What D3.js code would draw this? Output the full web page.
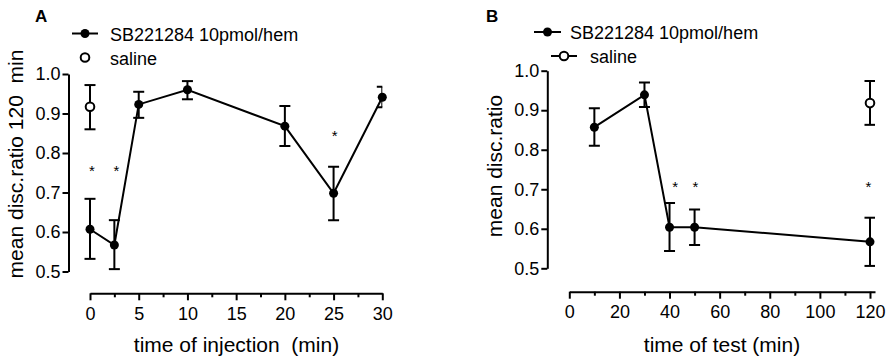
<!DOCTYPE html>
<html>
<head>
<meta charset="utf-8">
<script src="https://cdn.jsdelivr.net/npm/d3@7"></script>
<style>
  html, body { margin: 0; padding: 0; background: #fff; }
  svg { display: block; }
  text { font-family: Arial, "Liberation Sans", Helvetica, sans-serif; fill: #000; }
</style>
</head>
<body>
<svg id="chart" width="892" height="364"></svg>
<script>
// ---------- Panel A data ----------
const timesA = [0, 2.5, 5, 10, 20, 25, 30];
const meanA = [0.607, 0.567, 0.923, 0.960, 0.868, 0.698, 0.941];
const errHighA = [0.684, 0.630, 0.955, 0.982, 0.919, 0.765, 0.968];
const errLowA = [0.532, 0.506, 0.889, 0.936, 0.818, 0.630, 0.916];
const salineTimeA = [0];
const salineMeanA = [0.917];
const salineHighA = [0.972];
const salineLowA = [0.860];
const starXA = [0.2, 2.7, 25.1];
const starYA = [0.763, 0.763, 0.852];
const xTicksA = [0, 5, 10, 15, 20, 25, 30];
const xMinorA = [2.5, 7.5, 12.5, 17.5, 22.5, 27.5];

// ---------- Panel B data ----------
const timesB = [10, 30, 40, 50, 120];
const meanB = [0.857, 0.939, 0.604, 0.604, 0.567];
const errHighB = [0.905, 0.970, 0.665, 0.649, 0.628];
const errLowB = [0.810, 0.908, 0.544, 0.559, 0.506];
const salineTimeB = [120];
const salineMeanB = [0.918];
const salineHighB = [0.974];
const salineLowB = [0.863];
const starXB = [42.3, 50.3, 119.4];
const starYB = [0.715, 0.715, 0.715];
const xTicksB = [0, 20, 40, 60, 80, 100, 120];
const xMinorB = [10, 30, 50, 70, 90, 110];

const yTicks = [0.5, 0.6, 0.7, 0.8, 0.9, 1.0];
const seriesLabel = "SB221284 10pmol/hem";
const salineLabel = "saline";

const svg = d3.select("#chart");
const fmt = d3.format(".1f");

function panel(cfg) {
  const g = svg.append("g");
  const x = d3.scaleLinear().domain(cfg.xDomain).range(cfg.xRange);
  const y = d3.scaleLinear().domain([0.5, 1.0]).range(cfg.yRange);

  // y axis
  const ya = g.append("g")
    .attr("transform", `translate(${cfg.yAxisX},0)`)
    .call(d3.axisLeft(y).tickValues(yTicks).tickFormat(fmt).tickSizeInner(6).tickSizeOuter(0).tickPadding(2));
  // x axis
  const xa = g.append("g")
    .attr("transform", `translate(0,${cfg.xAxisY})`)
    .call(d3.axisBottom(x).tickValues(cfg.xTicks).tickFormat(d3.format("d")).tickSizeInner(7).tickSizeOuter(0).tickPadding(7));
  const xm = g.append("g")
    .attr("transform", `translate(0,${cfg.xAxisY})`)
    .call(d3.axisBottom(x).tickValues(cfg.xMinor).tickFormat("").tickSizeInner(4).tickSizeOuter(0));
  xm.select(".domain").remove();
  [ya, xa, xm].forEach(a => {
    a.selectAll("path, line").attr("stroke", "#000").attr("stroke-width", 2);
    a.selectAll("text").attr("font-size", 18).attr("font-family", "Arial, 'Liberation Sans', sans-serif").attr("fill", "#000");
  });

  // clip for error bars
  const clipId = "clip" + cfg.id;
  svg.append("clipPath").attr("id", clipId).append("rect")
    .attr("x", x(cfg.xDomain[0]) - 20).attr("y", 0)
    .attr("width", x(cfg.clipMax) - x(cfg.xDomain[0]) + 20).attr("height", 364);

  const cap = 5.5;
  function errorBars(xs, hi, lo) {
    const eb = g.append("g").attr("clip-path", `url(#${clipId})`)
      .attr("stroke", "#000").attr("stroke-width", 2).attr("fill", "none");
    xs.forEach((t, i) => {
      const cx = x(t);
      eb.append("line").attr("x1", cx).attr("x2", cx).attr("y1", y(hi[i])).attr("y2", y(lo[i]));
      eb.append("line").attr("x1", cx - cap).attr("x2", cx + cap).attr("y1", y(hi[i])).attr("y2", y(hi[i]));
      eb.append("line").attr("x1", cx - cap).attr("x2", cx + cap).attr("y1", y(lo[i])).attr("y2", y(lo[i]));
    });
  }

  errorBars(cfg.salineT, cfg.salineHi, cfg.salineLo);
  errorBars(cfg.t, cfg.hi, cfg.lo);

  // saline points
  g.selectAll(".sal").data(cfg.salineT.map((t, i) => [t, cfg.salineM[i]])).join("circle")
    .attr("cx", d => x(d[0])).attr("cy", d => y(d[1])).attr("r", 4.3)
    .attr("fill", "#fff").attr("stroke", "#000").attr("stroke-width", 2);

  // drug line
  const line = d3.line().x(d => x(d[0])).y(d => y(d[1]));
  const pts = cfg.t.map((t, i) => [t, cfg.m[i]]);
  g.append("path").datum(pts).attr("d", line).attr("fill", "none").attr("stroke", "#000").attr("stroke-width", 2);
  g.selectAll(".dot").data(pts).join("circle")
    .attr("cx", d => x(d[0])).attr("cy", d => y(d[1])).attr("r", 4.5).attr("fill", "#000");

  // stars
  g.selectAll(".star").data(cfg.starX.map((s, i) => [s, cfg.starY[i]])).join("text")
    .attr("x", d => x(d[0])).attr("y", d => y(d[1]) + 8.5)
    .attr("text-anchor", "middle").attr("font-size", 15).text("*");

  // panel letter
  g.append("text").attr("x", cfg.letterX).attr("y", 21.5).attr("font-size", 17).attr("font-weight", "bold").text(cfg.letter);

  // axis titles
  g.append("text").attr("x", cfg.xTitleX).attr("y", 352).attr("text-anchor", "middle").attr("font-size", 21)
    .style("white-space", "pre").attr("xml:space", "preserve").text(cfg.xTitle);
  g.append("text").attr("transform", `translate(${cfg.yTitleX},${cfg.yTitleY}) rotate(-90)`)
    .attr("text-anchor", "middle").attr("font-size", 21)
    .style("white-space", "pre").attr("xml:space", "preserve").text(cfg.yTitle);

  // legend
  const L = cfg.legend;
  g.append("line").attr("x1", L.l1[0]).attr("x2", L.l1[1]).attr("y1", L.y1).attr("y2", L.y1).attr("stroke", "#000").attr("stroke-width", 2);
  g.append("circle").attr("cx", (L.l1[0] + L.l1[1]) / 2).attr("cy", L.y1).attr("r", 4.5).attr("fill", "#000");
  g.append("text").attr("x", L.tx1).attr("y", L.y1 + 7).attr("font-size", 18).text(seriesLabel);
  if (L.l2) {
    g.append("line").attr("x1", L.l2[0]).attr("x2", L.l2[1]).attr("y1", L.y2).attr("y2", L.y2).attr("stroke", "#000").attr("stroke-width", 2);
  }
  g.append("circle").attr("cx", L.c2).attr("cy", L.y2).attr("r", 4.3).attr("fill", "#fff").attr("stroke", "#000").attr("stroke-width", 2);
  g.append("text").attr("x", L.tx2).attr("y", L.y2 + 7).attr("font-size", 18).text(salineLabel);
}

panel({
  id: "A", letter: "A", letterX: 35,
  xDomain: [0, 30], xRange: [90, 382.3], clipMax: 30,
  yRange: [271.5, 74], yAxisX: 68.5, xAxisY: 293.3,
  xTicks: xTicksA, xMinor: xMinorA,
  t: timesA, m: meanA, hi: errHighA, lo: errLowA,
  salineT: salineTimeA, salineM: salineMeanA, salineHi: salineHighA, salineLo: salineLowA,
  starX: starXA, starY: starYA,
  xTitle: "time of injection  (min)", xTitleX: 236.5,
  yTitle: "mean disc.ratio 120  min", yTitleX: 23, yTitleY: 164,
  legend: { l1: [72, 98], y1: 33.5, tx1: 110, c2: 85, y2: 57.5, tx2: 110 }
});

panel({
  id: "B", letter: "B", letterX: 486,
  xDomain: [0, 122], xRange: [569.3, 875], clipMax: 122,
  yRange: [268.3, 70.7], yAxisX: 547.3, xAxisY: 291.7,
  xTicks: xTicksB, xMinor: xMinorB,
  t: timesB, m: meanB, hi: errHighB, lo: errLowB,
  salineT: salineTimeB, salineM: salineMeanB, salineHi: salineHighB, salineLo: salineLowB,
  starX: starXB, starY: starYB,
  xTitle: "time of test (min)", xTitleX: 722,
  yTitle: "mean disc.ratio", yTitleX: 502, yTitleY: 166,
  legend: { l1: [534, 561], y1: 32, tx1: 570, l2: [551, 577], c2: 564, y2: 56, tx2: 590 }
});
</script>
</body>
</html>
